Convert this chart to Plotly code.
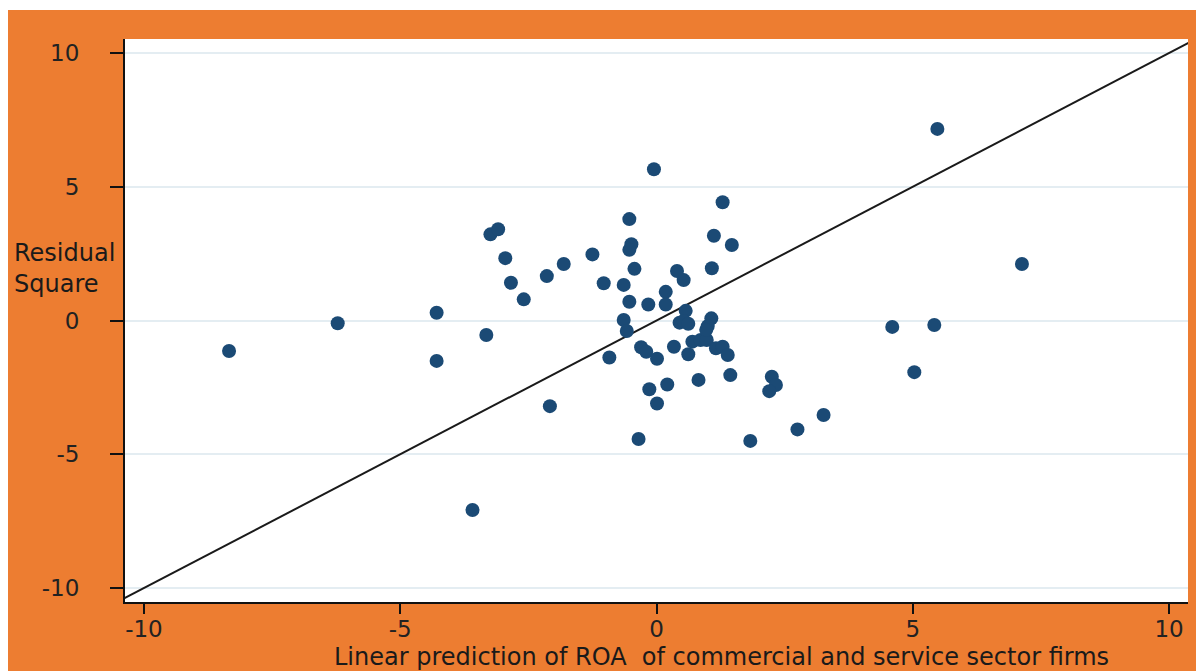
import plotly.graph_objects as go

# Linear prediction of ROA (x) vs residual (y)
pred_x = [-8.34, -6.22, -4.29, -4.29, -3.32, -3.59, -3.24, -3.09, -2.95, -2.84,
          -2.59, -2.14, -2.08, -1.81, -1.25, -1.03, -0.92, -0.64, -0.53, -0.49,
          -0.53, -0.43, -0.53, -0.64, -0.58, -0.30, -0.20, -0.16, -0.05, 0.01,
          0.18, 0.18, 0.40, 0.53, 0.57, 0.45, 0.53, 0.62, 0.34, 0.62,
          0.70, 0.86, 0.98, 1.07, 1.00, 0.97, 1.08, 1.12, 1.29, 1.47,
          1.16, 1.29, 1.39, -0.14, 0.21, 0.01, 0.82, 1.44, 2.25, 2.33,
          2.20, -0.35, 1.83, 2.75, 3.26, 4.60, 5.42, 5.03, 5.48, 7.13]
resid_y = [-1.14, -0.10, 0.29, -1.51, -0.54, -7.08, 3.22, 3.41, 2.33, 1.41,
           0.79, 1.66, -3.20, 2.11, 2.47, 1.39, -1.38, 1.33, 3.79, 2.85,
           2.64, 1.93, 0.70, 0.02, -0.39, -1.00, -1.17, 0.60, 5.65, -1.43,
           1.07, 0.60, 1.85, 1.51, 0.36, -0.08, -0.02, -0.12, -0.98, -1.26,
           -0.79, -0.73, -0.73, 0.08, -0.21, -0.35, 1.95, 3.17, 4.42, 2.82,
           -1.04, -0.98, -1.29, -2.57, -2.39, -3.10, -2.22, -2.04, -2.10, -2.41,
           -2.64, -4.43, -4.50, -4.07, -3.53, -0.24, -0.17, -1.93, 7.16, 2.11]

line_x = [-10.6, 10.6]
line_y = [-10.6, 10.6]

tick_vals = [-10, -5, 0, 5, 10]
tick_text = ["-10", "-5", "0", "5", "10"]

x_title = "Linear prediction of ROA  of commercial and service sector firms"
y_title = "Residual<br>Square"

ORANGE = "#ED7D31"
FONT = "DejaVu Sans"

fig = go.Figure()
fig.add_trace(go.Scatter(x=line_x, y=line_y, mode="lines",
                         line=dict(color="#1a1a1a", width=2),
                         hoverinfo="skip", showlegend=False))
fig.add_trace(go.Scatter(x=pred_x, y=resid_y, mode="markers",
                         marker=dict(color="#1b4a75", size=14, line=dict(width=0)),
                         showlegend=False))

fig.update_layout(
    width=1196, height=663,
    margin=dict(l=117, r=16, t=31, b=69),
    paper_bgcolor=ORANGE,
    plot_bgcolor="white",
    font=dict(family=FONT, color="#222222", size=22),
    showlegend=False,
)
fig.update_xaxes(range=[-10.37, 10.37], tickvals=tick_vals, ticktext=tick_text,
                 showgrid=False, zeroline=False, showline=True, linecolor="#111111",
                 linewidth=2, ticks="outside", ticklen=10, tickwidth=2, tickcolor="#111111",
                 ticklabelstandoff=-5,
                 tickfont=dict(family=FONT, size=23, color="#222222"))
fig.update_yaxes(range=[-10.52, 10.52], tickvals=tick_vals, ticktext=tick_text,
                 showgrid=True, gridcolor="#e4edf2", gridwidth=2, zeroline=False,
                 showline=True, linecolor="#111111", linewidth=2,
                 ticks="outside", ticklen=13, tickwidth=2, tickcolor="#111111",
                 ticklabelstandoff=26,
                 tickfont=dict(family=FONT, size=23, color="#222222"))

# thin white strip along the top edge of the picture
fig.add_shape(type="rect", xref="paper", yref="paper", x0=-0.2, x1=1.1,
              y0=1.0515, y1=1.2, fillcolor="white", line=dict(width=0), layer="below")

fig.add_annotation(text=x_title, xref="paper", yref="paper", x=0.5616, y=-0.0977,
                   showarrow=False, xanchor="center", yanchor="middle",
                   font=dict(family=FONT, size=24, color="#1a1a1a"))
fig.add_annotation(text=y_title, xref="paper", yref="paper", x=-0.1063, y=0.5915,
                   showarrow=False, xanchor="left", yanchor="middle", align="left",
                   font=dict(family=FONT, size=24, color="#1a1a1a"))

fig.write_html("out.html")
